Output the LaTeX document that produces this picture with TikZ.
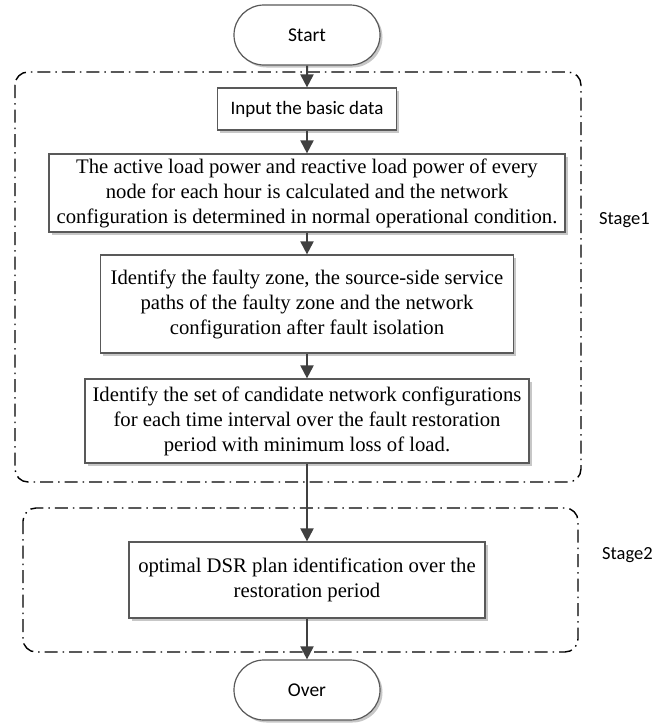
\documentclass[tikz,border=0pt]{standalone}
\usepackage{fontspec}
\setmainfont{Liberation Serif}
\newfontfamily\calfont{Carlito}
\usetikzlibrary{shapes.misc,shadows,arrows.meta}
\begin{document}
\begin{tikzpicture}[x=1pt,y=-1pt,
  boxshadow/.style={drop shadow={shadow xshift=2.5pt,shadow yshift=-2.5pt,fill=black!22,opacity=1}},
  procbox/.style={draw=black!65,line width=1.2pt,fill=white,boxshadow,align=center,
    font=\fontsize{20.7}{25}\selectfont,inner sep=0pt},
  terminal/.style={rounded rectangle,draw=black!65,line width=1.2pt,fill=white,boxshadow,
    minimum width=146pt,minimum height=60pt,inner sep=0pt,
    font=\calfont\fontsize{19.5}{23}\selectfont},
  stageframe/.style={draw=black,line width=1.4pt,rounded corners=13pt,
    dash pattern=on 13pt off 5pt on 1.5pt off 5pt},
  flow/.style={draw=black!75,line width=2pt,-{Triangle[width=13pt,length=13pt]}},
  stagelabel/.style={font=\calfont\fontsize{18.5}{22}\selectfont,anchor=base west,inner sep=0pt}]

\useasboundingbox (0,0) rectangle (657,723);
\fill[white] (0,0) rectangle (657,723);

% stage frames
\draw[stageframe] (15,72) rectangle (581,482);
\draw[stageframe] (23,508) rectangle (578,652);

% flow steps
\node[terminal] (start) at (307,35) {Start};
\node[procbox,minimum width=179pt,minimum height=42pt,
  font=\calfont\fontsize{19}{23}\selectfont] (input) at (307,109) {Input the basic data};
\node[procbox,minimum width=516pt,minimum height=78pt] (calc) at (307,193)
  {The active load power and reactive load power of every\\
   node for each hour is calculated and the network\\
   configuration is determined in normal operational condition.};
\node[procbox,minimum width=413pt,minimum height=98pt] (fault) at (307,304)
  {Identify the faulty zone, the source-side service\\
   paths of the faulty zone and the network\\
   configuration after fault isolation};
\node[procbox,minimum width=444pt,minimum height=84pt] (cand) at (307,421)
  {Identify the set of candidate network configurations\\
   for each time interval over the fault restoration\\
   period with minimum loss of load.};
\node[procbox,minimum width=356pt,minimum height=76pt] (dsr) at (307,580)
  {optimal DSR plan identification over the\\
   restoration period};
\node[terminal] (over) at (307,690) {Over};

% connectors
\draw[flow] (start) -- (input);
\draw[flow] (input) -- (calc);
\draw[flow] (calc) -- (fault);
\draw[flow] (fault) -- (cand);
\draw[flow] (cand) -- (dsr);
\draw[flow] (dsr) -- (over);

% stage labels
\node[stagelabel] (s1) at (599,224) {Stage1};
\node[stagelabel] (s2) at (602,559) {Stage2};
\end{tikzpicture}
\end{document}
